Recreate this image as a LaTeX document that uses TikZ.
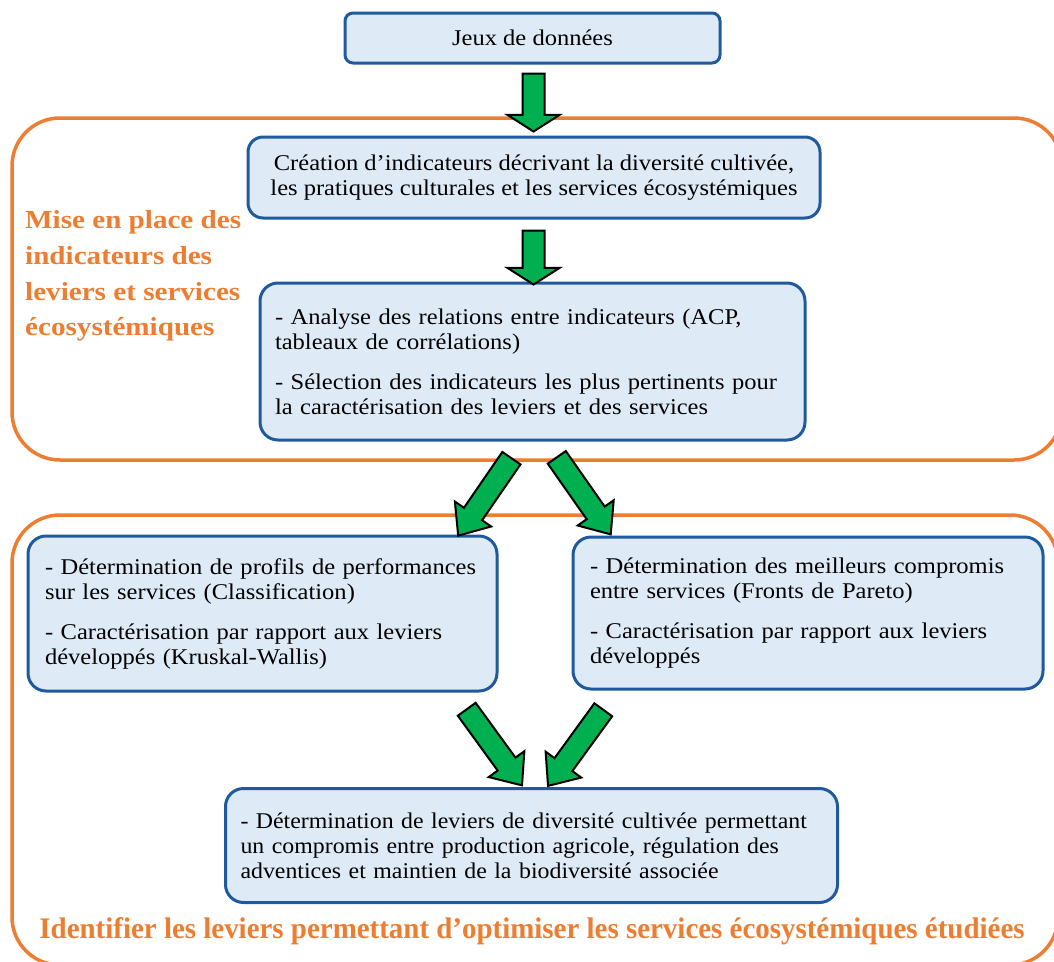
\documentclass[tikz,border=0pt]{standalone}
\usepackage{fontspec}
\setmainfont{Liberation Serif}
\newfontfamily\boxfont{Liberation Serif}[FakeStretch=1.09]
\newfontfamily\boxfontn{Liberation Serif}[FakeStretch=1.06]
\newfontfamily\ttlfont{Liberation Serif}[FakeStretch=1.12]
\usetikzlibrary{shapes.arrows}
\definecolor{bfill}{HTML}{DEEAF6}
\definecolor{bline}{HTML}{1F5A9E}
\definecolor{orng}{HTML}{ED7D31}
\definecolor{grn}{HTML}{00B050}
\begin{document}
\begin{tikzpicture}[x=1pt,y=-1pt,
  box/.style={draw=bline, fill=bfill, line width=3pt, rounded corners=18pt, inner sep=0pt,
    font=\boxfont\fontsize{22.5}{25}\selectfont},
  zone/.style={draw=orng, line width=3.5pt, rounded corners=48pt},
  ttl/.style={anchor=base west, text=orng, inner sep=0pt, font=\ttlfont\bfseries\fontsize{26}{34}\selectfont},
  varrow/.style={shape=single arrow, draw=black, fill=grn, line width=2pt, inner xsep=0pt,
    inner ysep=10pt, single arrow head extend=15pt, single arrow tip angle=115},
  darrow/.style={shape=single arrow, draw=black, fill=grn, line width=2pt, inner xsep=0pt,
    inner ysep=10pt, single arrow head extend=11pt, single arrow tip angle=80, minimum height=94pt}
]
\clip (0,0) rectangle (1054,961);
\fill[white] (0,0) rectangle (1054,961);
% zones
\draw[zone] (12,118) rectangle (1062,460);
\draw[zone] (12,515) rectangle (1058,965);
% titles
\node[ttl] (t1) at (25,228) {Mise en place des};
\node[ttl] (t2) at (25,264) {indicateurs des};
\node[ttl] (t3) at (25,300) {leviers et services};
\node[ttl] (t4) at (25,335) {écosystémiques};
\node[anchor=base, text=orng, inner sep=0pt] (tb) at (532,938)
  {\resizebox{985pt}{21pt}{\bfseries Identifier les leviers permettant d’optimiser les services écosystémiques étudiées}};
% boxes
\node[box, rounded corners=8pt, minimum width=375pt, minimum height=50pt] (b1) at (532.5,38) {Jeux de données};
\node[box, rounded corners=15pt, minimum width=572pt, minimum height=81pt, align=center] (b2) at (534,177.5)
  {Création d’indicateurs décrivant la diversité cultivée,\\les pratiques culturales et les services écosystémiques};
\node[box, minimum width=545pt, minimum height=157pt, text width=515pt, align=left] (b3) at (532.5,361.5)
  {- Analyse des relations entre indicateurs (ACP,\\tableaux de corrélations)\\[15pt]- Sélection des indicateurs les plus pertinents pour\\la caractérisation des leviers et des services};
\node[box, minimum width=469pt, minimum height=155pt, text width=435pt, align=left] (b4) at (262.5,613.5)
  {- Détermination de profils de performances\\sur les services (Classification)\\[15pt]- Caractérisation par rapport aux leviers\\développés (Kruskal-Wallis)};
\node[box, minimum width=470pt, minimum height=152pt, text width=436pt, align=left] (b5) at (808,613)
  {- Détermination des meilleurs compromis\\entre services (Fronts de Pareto)\\[15pt]- Caractérisation par rapport aux leviers\\développés};
\node[box, font=\boxfontn\fontsize{22.5}{25}\selectfont, minimum width=612pt, minimum height=114pt, text width=582pt, align=left] (b6) at (531.5,845.5)
  {- Détermination de leviers de diversité cultivée permettant\\un compromis entre production agricole, régulation des\\adventices et maintien de la biodiversité associée};
% arrows
\node[varrow, minimum height=58pt, rotate=-90] (a1) at (533.5,99) {};
\node[varrow, minimum height=54pt, rotate=-90] (a2) at (533.5,254) {};
\node[darrow, rotate=-124.5] (a3) at (488.5,491.5) {};
\node[darrow, rotate=-55] (a4) at (580,490.5) {};
\node[darrow, rotate=-54] (a5) at (490.5,742) {};
\node[darrow, rotate=-126] (a6) at (579.5,742.5) {};
\end{tikzpicture}
\end{document}
